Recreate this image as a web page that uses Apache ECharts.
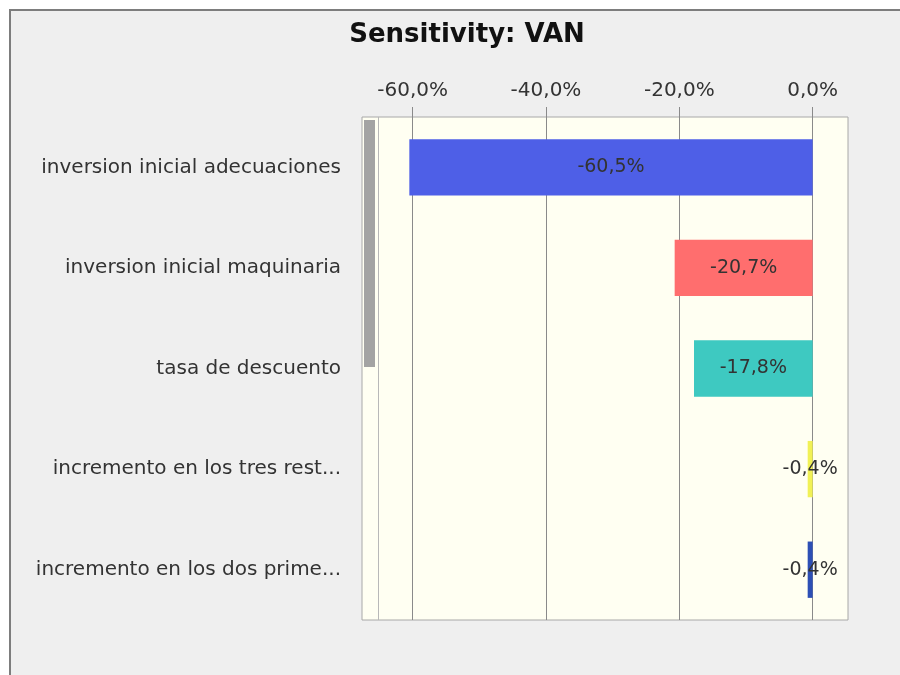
<!DOCTYPE html>
<html>
<head>
<meta charset="utf-8">
<title>Sensitivity: VAN</title>
<script src="https://cdn.jsdelivr.net/npm/echarts@6/dist/echarts.min.js"></script>
<style>
  html, body { margin: 0; padding: 0; background: #fff; }
  #chart { width: 900px; height: 675px; }
</style>
</head>
<body>
<div id="chart"></div>
<script>
// categorias (de arriba hacia abajo)
var categories = [
  "inversion inicial adecuaciones",
  "inversion inicial maquinaria",
  "tasa de descuento",
  "incremento en los tres rest...",
  "incremento en los dos prime..."
];
// sensibilidad del VAN, en %
var values = [-60.5, -20.7, -17.8, -0.4, -0.4];
var barColors = ["#4e5fe7", "#ff6e6e", "#3ec9c1", "#f1f156", "#2d4fb5"];
var tickValues = [-60, -40, -20, 0];

var FONT = "DejaVu Sans, Verdana, sans-serif";

function pct(v) {
  return v.toFixed(1).replace(".", ",") + "%";
}

var chart = echarts.init(document.getElementById("chart"));

var option = {
  backgroundColor: "#ffffff",
  animation: false,
  graphic: [
    {
      // marco exterior
      type: "rect",
      z: -10,
      shape: { x: 10, y: 10, width: 900, height: 700 },
      style: { fill: "#efefef", stroke: "#7d7d7d", lineWidth: 2 }
    },
    {
      // barra de desplazamiento
      type: "rect",
      z: 10,
      shape: { x: 364, y: 120, width: 11, height: 247 },
      style: { fill: "#a3a3a3" }
    },
    {
      type: "line",
      z: 10,
      shape: { x1: 378.5, y1: 117, x2: 378.5, y2: 620 },
      style: { stroke: "#b8b8b8", lineWidth: 1 }
    }
  ],
  title: {
    text: "Sensitivity: VAN",
    left: 462,
    textAlign: "center",
    top: 17,
    textStyle: {
      fontFamily: FONT,
      fontSize: 26,
      fontWeight: "bold",
      color: "#111"
    }
  },
  grid: {
    left: 362,
    right: 52,
    top: 117,
    bottom: 55,
    show: true,
    backgroundColor: "#fffff2",
    borderColor: "#a8a8a8",
    borderWidth: 1
  },
  xAxis: {
    type: "value",
    position: "top",
    min: -67.6,
    max: 5.3,
    axisLine: { show: false },
    axisTick: {
      show: true,
      length: 10,
      customValues: tickValues,
      lineStyle: { color: "#8a8a8a" }
    },
    axisLabel: {
      customValues: tickValues,
      margin: 16,
      fontFamily: FONT,
      fontSize: 20,
      color: "#333",
      formatter: pct
    },
    splitLine: {
      show: true,
      lineStyle: { color: "#8a8a8a", width: 1 }
    }
  },
  yAxis: {
    type: "category",
    inverse: true,
    data: categories,
    axisLine: { show: false },
    axisTick: { show: false },
    axisLabel: {
      margin: 21,
      fontFamily: FONT,
      fontSize: 20,
      color: "#333"
    }
  },
  series: [
    {
      type: "bar",
      barCategoryGap: "44%",
      barMinHeight: 5,
      data: values.map(function (v, i) {
        return { value: v, itemStyle: { color: barColors[i] } };
      }),
      label: {
        show: true,
        position: "inside",
        fontFamily: FONT,
        fontSize: 19,
        color: "#333",
        formatter: function (p) { return pct(p.value); }
      }
    }
  ]
};

chart.setOption(option);
</script>
</body>
</html>
